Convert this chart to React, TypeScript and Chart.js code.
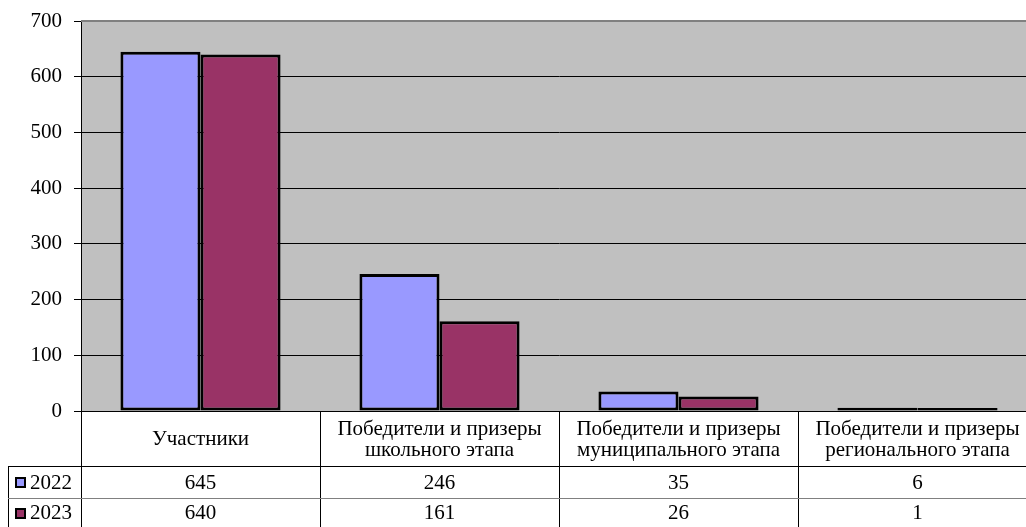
import React, { useEffect, useRef } from "react";
import { Chart, registerables } from "chart.js";

Chart.register(...registerables);

const categories: string[][] = [
  ["Участники"],
  ["Победители и призеры", "школьного этапа"],
  ["Победители и призеры", "муниципального этапа"],
  ["Победители и призеры", "регионального этапа"],
];
const seriesNames = ["2022", "2023"];
const values2022 = [645, 246, 35, 6];
const values2023 = [640, 161, 26, 1];
const seriesColors = ["#9999FF", "#993366"];
const yMin = 0;
const yMax = 700;
const yStep = 100;

const FONT_SIZE = 21;
const FONT = `${FONT_SIZE}px "Liberation Serif", "Times New Roman", serif`;

const bgPlugin = {
  id: "plotBg",
  beforeDraw(chart: any) {
    const { ctx, chartArea } = chart;
    ctx.save();
    ctx.fillStyle = "#C0C0C0";
    ctx.fillRect(chartArea.left, chartArea.top, chartArea.right - chartArea.left, chartArea.bottom - chartArea.top);
    ctx.restore();
  },
};

const tablePlugin = {
  id: "dataTable",
  afterDraw(chart: any) {
    const { ctx, chartArea, width } = chart;
    const x = chart.scales.x;
    const n = categories.length;
    const catW = (chartArea.right - chartArea.left) / n;
    const top = chartArea.bottom;
    const headerBottom = top + 55;
    const row1Bottom = headerBottom + 32;
    const bottom = chart.height;
    const tableLeft = 8;
    ctx.save();
    // top border of plot
    ctx.strokeStyle = "#808080";
    ctx.lineWidth = 2;
    ctx.beginPath();
    ctx.moveTo(chartArea.left, chartArea.top);
    ctx.lineTo(chartArea.right, chartArea.top);
    ctx.stroke();

    ctx.lineWidth = 1;
    ctx.strokeStyle = "#000";
    ctx.beginPath();
    for (let i = 0; i <= n; i++) {
      const xx = Math.round(chartArea.left + i * catW) + 0.5;
      ctx.moveTo(xx, top);
      ctx.lineTo(xx, bottom);
    }
    ctx.moveTo(tableLeft + 0.5, headerBottom);
    ctx.lineTo(tableLeft + 0.5, bottom);
    ctx.moveTo(tableLeft, headerBottom + 0.5);
    ctx.lineTo(width, headerBottom + 0.5);
    ctx.stroke();
    ctx.strokeStyle = "#808080";
    ctx.beginPath();
    ctx.moveTo(tableLeft, row1Bottom + 0.5);
    ctx.lineTo(width, row1Bottom + 0.5);
    ctx.stroke();

    ctx.fillStyle = "#000";
    ctx.font = FONT;
    ctx.textAlign = "center";
    ctx.textBaseline = "middle";
    const headMid = (top + headerBottom) / 2 + 1;
    categories.forEach((lines, i) => {
      const cx = x.getPixelForValue(i);
      const lh = 21;
      const start = headMid - ((lines.length - 1) * lh) / 2;
      lines.forEach((ln, j) => ctx.fillText(ln, cx, start + j * lh));
    });
    const rows = [values2022, values2023];
    const rowMids = [(headerBottom + row1Bottom) / 2 + 1, (row1Bottom + bottom) / 2 + 1];
    rows.forEach((vals, r) => {
      ctx.textAlign = "center";
      ctx.fillStyle = "#000";
      vals.forEach((v, i) => ctx.fillText(String(v), x.getPixelForValue(i), rowMids[r]));
      // legend key
      const ky = Math.round(rowMids[r] - 5);
      ctx.fillStyle = seriesColors[r];
      ctx.fillRect(16, ky, 9, 9);
      ctx.strokeStyle = "#000";
      ctx.lineWidth = 2;
      ctx.strokeRect(16, ky, 9, 9);
      ctx.fillStyle = "#000";
      ctx.textAlign = "left";
      ctx.fillText(seriesNames[r], 30, rowMids[r]);
    });
    ctx.restore();
  },
};

export default function App() {
  const ref = useRef<HTMLCanvasElement>(null);
  useEffect(() => {
    if (!ref.current) return;
    const common = {
      borderColor: "#000",
      borderWidth: 3,
      borderSkipped: false as const,
      categoryPercentage: 0.67,
      barPercentage: 1,
      minBarLength: 3,
    };
    const chart = new Chart(ref.current, {
      type: "bar",
      data: {
        labels: categories.map((c) => c.join(" ")),
        datasets: [
          { label: seriesNames[0], data: values2022, backgroundColor: seriesColors[0], ...common },
          { label: seriesNames[1], data: values2023, backgroundColor: seriesColors[1], ...common },
        ],
      },
      options: {
        animation: false,
        responsive: false,
        maintainAspectRatio: false,
        layout: { padding: { left: 0, top: 21, right: 3, bottom: 116 } },
        plugins: { legend: { display: false }, tooltip: { enabled: false } },
        scales: {
          x: {
            ticks: { display: false },
            grid: { display: false },
            border: { display: false },
            afterFit: (s: any) => {
              s.height = 0;
              s.paddingLeft = 0;
              s.paddingRight = 0;
            },
          },
          y: {
            min: yMin,
            max: yMax,
            ticks: {
              stepSize: yStep,
              color: "#000",
              padding: 12,
              font: { family: '"Liberation Serif"', size: FONT_SIZE },
            },
            grid: { color: "#000", lineWidth: 1, tickLength: 7 },
            border: { display: true, color: "#000", width: 1 },
            afterFit: (s: any) => {
              s.width = 81;
              s.paddingTop = 0;
              s.paddingBottom = 0;
            },
          },
        },
      },
      plugins: [bgPlugin, tablePlugin],
    });
    return () => chart.destroy();
  }, []);
  return (
    <div style={{ position: "absolute", left: 0, top: 0, width: 1026, height: 527, overflow: "hidden", background: "#fff" }}>
      <canvas ref={ref} width={1040} height={527} style={{ width: 1040, height: 527, display: "block" }} />
    </div>
  );
}
